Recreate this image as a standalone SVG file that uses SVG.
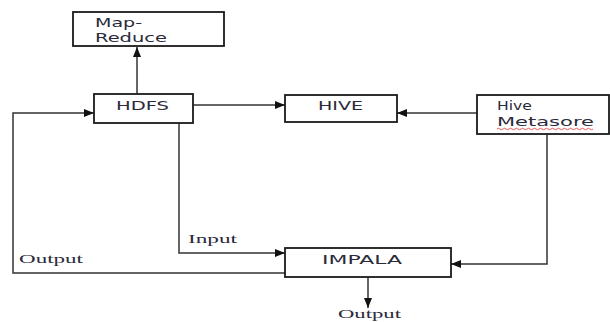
<svg xmlns="http://www.w3.org/2000/svg" width="610" height="322" viewBox="0 0 610 322">
<style>
.box{fill:#fff;stroke:#1a1a1a;stroke-width:1.8}
.lbl{font-family:"DejaVu Sans","Verdana",sans-serif;font-size:12px;fill:#2a2a3a}
.ser{font-family:"Liberation Serif","Times New Roman",serif;font-size:13px;fill:#2a2a3a}
.con{fill:none;stroke:#333;stroke-width:1.5}
</style>
<defs>
<marker id="ah" viewBox="0 0 10 8" refX="10" refY="4" markerWidth="10" markerHeight="8" markerUnits="userSpaceOnUse" orient="auto">
<path d="M0,0 L10,4 L0,8 Z" fill="#111"/>
</marker>
</defs>
<g id="connectors">
<line class="con" x1="137" y1="94" x2="137" y2="47" marker-end="url(#ah)"/>
<line class="con" x1="193" y1="105" x2="285" y2="105" marker-end="url(#ah)"/>
<line class="con" x1="477" y1="113" x2="397" y2="113" marker-end="url(#ah)"/>
<polyline class="con" points="547,134 547,264 451,264" marker-end="url(#ah)"/>
<polyline class="con" points="179,123 179,253 285,253" marker-end="url(#ah)"/>
<polyline class="con" points="285,273 13,273 13,113 94,113" marker-end="url(#ah)"/>
<line class="con" x1="368" y1="277" x2="368" y2="308" marker-end="url(#ah)"/>
</g>
<g id="mapreduce">
<rect class="box" x="73" y="12" width="151" height="34"/>
<text class="lbl" x="95" y="27" textLength="47" lengthAdjust="spacingAndGlyphs">Map-</text>
<text class="lbl" x="95" y="42" textLength="72" lengthAdjust="spacingAndGlyphs">Reduce</text>
</g>
<g id="hdfs">
<rect class="box" x="94" y="94" width="99" height="29"/>
<text class="lbl" x="116" y="110" textLength="53" lengthAdjust="spacingAndGlyphs">HDFS</text>
</g>
<g id="hive">
<rect class="box" x="285" y="95" width="112" height="27"/>
<text class="lbl" x="318" y="110" textLength="45" lengthAdjust="spacingAndGlyphs">HIVE</text>
</g>
<g id="metastore">
<rect class="box" x="477" y="95" width="132" height="39"/>
<text class="lbl" x="497" y="110" textLength="35" lengthAdjust="spacingAndGlyphs">Hive</text>
<text class="lbl" x="497" y="126" textLength="97" lengthAdjust="spacingAndGlyphs">Metasore</text>
<path d="M497,129 q1.5,-1.5 3,0 t3,0 t3,0 t3,0 t3,0 t3,0 t3,0 t3,0 t3,0 t3,0 t3,0 t3,0 t3,0 t3,0 t3,0 t3,0 t3,0 t3,0 t3,0 t3,0 t3,0 t3,0 t3,0 t3,0 t3,0 t3,0 t3,0 t3,0 t3,0 t3,0 t3,0 t3,0" fill="none" stroke="#e03030" stroke-width="0.8"/>
</g>
<g id="impala">
<rect class="box" x="285" y="248" width="166" height="29"/>
<text class="lbl" x="322" y="264" textLength="80" lengthAdjust="spacingAndGlyphs">IMPALA</text>
</g>
<g id="labels">
<text class="ser" x="188" y="243" textLength="49" lengthAdjust="spacingAndGlyphs">Input</text>
<text class="ser" x="19" y="263" textLength="64" lengthAdjust="spacingAndGlyphs">Output</text>
<text class="ser" x="338" y="318" font-size="12" textLength="63" lengthAdjust="spacingAndGlyphs">Output</text>
</g>
</svg>
